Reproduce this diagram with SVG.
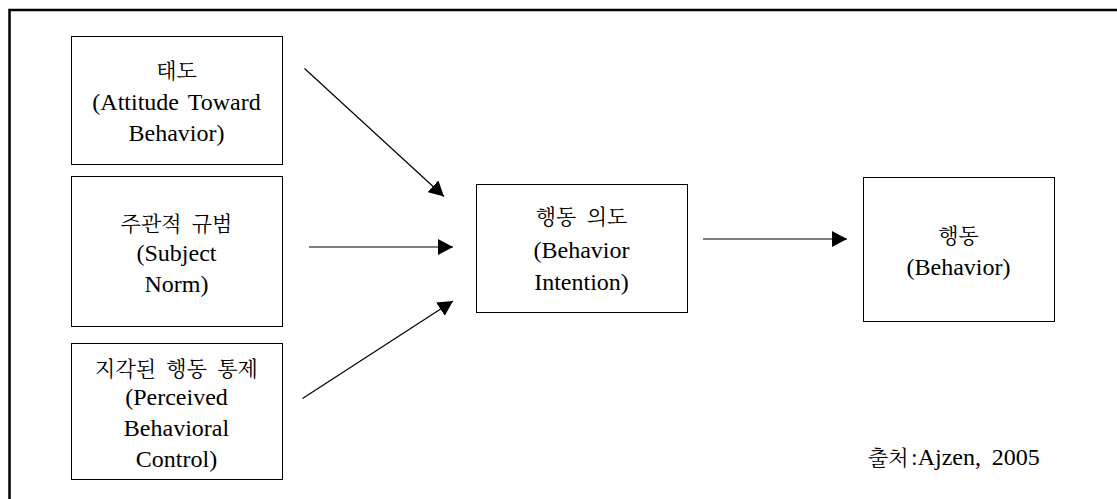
<svg xmlns="http://www.w3.org/2000/svg" width="1117" height="499" viewBox="0 0 1117 499">
<defs>
<marker id="ah" markerUnits="userSpaceOnUse" markerWidth="16" markerHeight="16" refX="15" refY="8" orient="auto" viewBox="0 0 16 16">
<path d="M0,0 L15,8 L0,16 z" fill="#000"/>
</marker>
</defs>
<rect width="1117" height="499" fill="#fff"/>
<path d="M9.5,499 V10 H1117" fill="none" stroke="#000" stroke-width="2.5"/>
<g id="attitude">
<rect x="71.5" y="36.5" width="211" height="128" fill="#fff" stroke="#000"/>
<text x="176.5" y="78" font-family="Noto Serif CJK KR" font-size="21" text-anchor="middle">태도</text>
<text transform="translate(176.5,110) scale(0.8)" font-family="Liberation Serif" font-size="30" text-anchor="middle" word-spacing="4">(Attitude Toward</text>
<text transform="translate(176.5,141) scale(0.8)" font-family="Liberation Serif" font-size="30" text-anchor="middle">Behavior)</text>
</g>
<g id="norm">
<rect x="71.5" y="176.5" width="211" height="150" fill="#fff" stroke="#000"/>
<text x="176.5" y="231" font-family="Noto Serif CJK KR" font-size="21" text-anchor="middle" word-spacing="5">주관적 규범</text>
<text transform="translate(176.5,261) scale(0.8)" font-family="Liberation Serif" font-size="30" text-anchor="middle">(Subject</text>
<text transform="translate(176.5,292) scale(0.8)" font-family="Liberation Serif" font-size="30" text-anchor="middle">Norm)</text>
</g>
<g id="control">
<rect x="71.5" y="343.5" width="211" height="136" fill="#fff" stroke="#000"/>
<text x="176.5" y="376" font-family="Noto Serif CJK KR" font-size="21" text-anchor="middle" word-spacing="5">지각된 행동 통제</text>
<text transform="translate(176.5,405) scale(0.8)" font-family="Liberation Serif" font-size="30" text-anchor="middle">(Perceived</text>
<text transform="translate(176.5,436) scale(0.8)" font-family="Liberation Serif" font-size="30" text-anchor="middle">Behavioral</text>
<text transform="translate(176.5,467) scale(0.8)" font-family="Liberation Serif" font-size="30" text-anchor="middle">Control)</text>
</g>
<g id="intention">
<rect x="476.5" y="184.5" width="211" height="128" fill="#fff" stroke="#000"/>
<text x="581.5" y="224" font-family="Noto Serif CJK KR" font-size="21" text-anchor="middle" word-spacing="5">행동 의도</text>
<text transform="translate(581.5,258) scale(0.8)" font-family="Liberation Serif" font-size="30" text-anchor="middle">(Behavior</text>
<text transform="translate(581.5,290) scale(0.8)" font-family="Liberation Serif" font-size="30" text-anchor="middle">Intention)</text>
</g>
<g id="behavior">
<rect x="863.5" y="177.5" width="191" height="144" fill="#fff" stroke="#000"/>
<text x="958.5" y="243" font-family="Noto Serif CJK KR" font-size="21" text-anchor="middle">행동</text>
<text transform="translate(958.5,275) scale(0.8)" font-family="Liberation Serif" font-size="30" text-anchor="middle">(Behavior)</text>
</g>
<g id="source">
<text x="868" y="465" font-family="Noto Serif CJK KR" font-size="21">출처</text>
<text transform="translate(911,465) scale(0.8)" font-family="Liberation Serif" font-size="30" word-spacing="6">:Ajzen, 2005</text>
</g>
<g id="connectors" stroke="#000" stroke-width="1.2" fill="none" marker-end="url(#ah)">
<path d="M304.5,68.5 L444,196.5"/>
<path d="M309,247 L453,247"/>
<path d="M302.5,398.5 L453,301"/>
<path d="M703,239 L847,239"/>
</g>
</svg>
